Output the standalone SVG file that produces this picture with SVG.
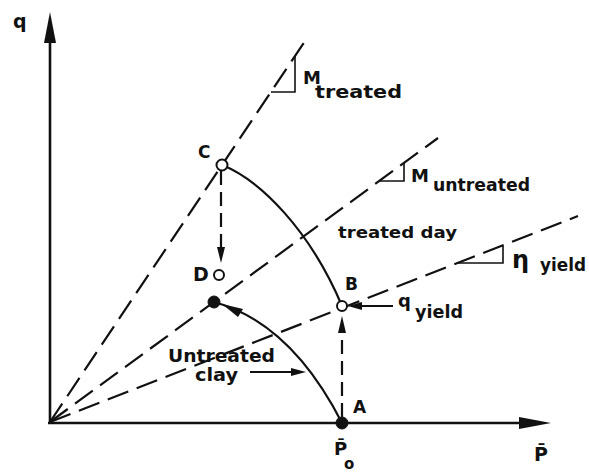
<svg xmlns="http://www.w3.org/2000/svg" width="589" height="475" viewBox="0 0 589 475">
<style>
.ax{stroke:#111;stroke-width:2.6;fill:none}
.dash{stroke:#111;stroke-width:2.2;fill:none;stroke-dasharray:22 9}
.vd{stroke:#111;stroke-width:2.2;fill:none;stroke-dasharray:14 7}
.sol{stroke:#111;stroke-width:2.2;fill:none}
.thin{stroke:#111;stroke-width:1.6;fill:none}
.ah{fill:#111;stroke:none}
.t{font-family:"DejaVu Sans",sans-serif;font-weight:bold;fill:#111}
.open{fill:#fff;stroke:#111;stroke-width:2}
.fill{fill:#111;stroke:#111;stroke-width:1}
</style>
<rect width="589" height="475" fill="#fff"/>
<g id="axes">
<line class="ax" x1="50" y1="423" x2="50" y2="30"/>
<polygon class="ah" points="50,12 44,43 56,43"/>
<line class="ax" x1="48" y1="423" x2="530" y2="423"/>
<polygon class="ah" points="551,423 519,417 519,429"/>
<text class="t" x="13" y="28" font-size="19">q</text>
<text class="t" x="534" y="461" font-size="19">P̄</text>
</g>
<g id="connectors">
<line class="dash" x1="50" y1="422" x2="305" y2="41"/>
<line class="dash" x1="50" y1="422" x2="438" y2="138"/>
<line class="dash" x1="50" y1="422" x2="578" y2="216"/>
<polyline class="thin" points="271,92 295,92 295,56"/>
<polyline class="thin" points="379,181 404,181 404,163"/>
<polyline class="thin" points="458,263 503,263 503,246"/>
<path class="sol" d="M222,165 C260,180 310,230 342,306"/>
<path class="sol" d="M342,423 C320,380 280,320 214,302"/>
<polygon class="ah" points="222,304 243,309 238,317"/>
<line class="vd" x1="342" y1="417" x2="342" y2="330"/>
<polygon class="ah" points="342,316 338,333 346,333"/>
<line class="vd" x1="221" y1="171" x2="221" y2="250"/>
<polygon class="ah" points="221,263 217,247 225,247"/>
<line class="sol" x1="393" y1="306" x2="360" y2="306"/>
<polygon class="ah" points="348,306 362,302 362,310"/>
<line class="sol" x1="250" y1="372" x2="294" y2="372"/>
<polygon class="ah" points="306,372 291,368 291,376"/>
</g>
<g id="node-A">
<circle class="fill" cx="342" cy="423" r="6"/>
<text class="t" x="353" y="413" font-size="17">A</text>
<text class="t" x="334" y="455" font-size="18">P̄<tspan x="344" y="469" font-size="15">o</tspan></text>
</g>
<g id="node-B">
<circle class="open" cx="342" cy="306" r="5"/>
<text class="t" x="345" y="290" font-size="17">B</text>
</g>
<g id="node-C">
<circle class="open" cx="222" cy="165" r="5.5"/>
<text class="t" x="198" y="158" font-size="17">C</text>
</g>
<g id="node-D">
<circle class="open" cx="219" cy="275" r="5"/>
<text class="t" x="193" y="281" font-size="19">D</text>
</g>
<g id="node-peak">
<circle class="fill" cx="214" cy="302" r="6"/>
</g>
<g id="labels">
<text class="t" x="303" y="84" font-size="18">M</text>
<text class="t" x="315" y="98" font-size="17" textLength="87" lengthAdjust="spacingAndGlyphs">treated</text>
<text class="t" x="411" y="182" font-size="18">M</text>
<text class="t" x="433" y="191" font-size="17" textLength="97" lengthAdjust="spacingAndGlyphs">untreated</text>
<text class="t" x="338" y="238" font-size="16" textLength="119" lengthAdjust="spacingAndGlyphs">treated day</text>
<text class="t" x="512" y="268" font-size="24">η</text>
<text class="t" x="540" y="271" font-size="17" textLength="46" lengthAdjust="spacingAndGlyphs">yield</text>
<text class="t" x="398" y="307" font-size="18">q</text>
<text class="t" x="415" y="318" font-size="17" textLength="48" lengthAdjust="spacingAndGlyphs">yield</text>
<text class="t" x="168" y="362" font-size="18" textLength="107" lengthAdjust="spacingAndGlyphs">Untreated</text>
<text class="t" x="195" y="381" font-size="18" textLength="43" lengthAdjust="spacingAndGlyphs">clay</text>
</g>
</svg>
